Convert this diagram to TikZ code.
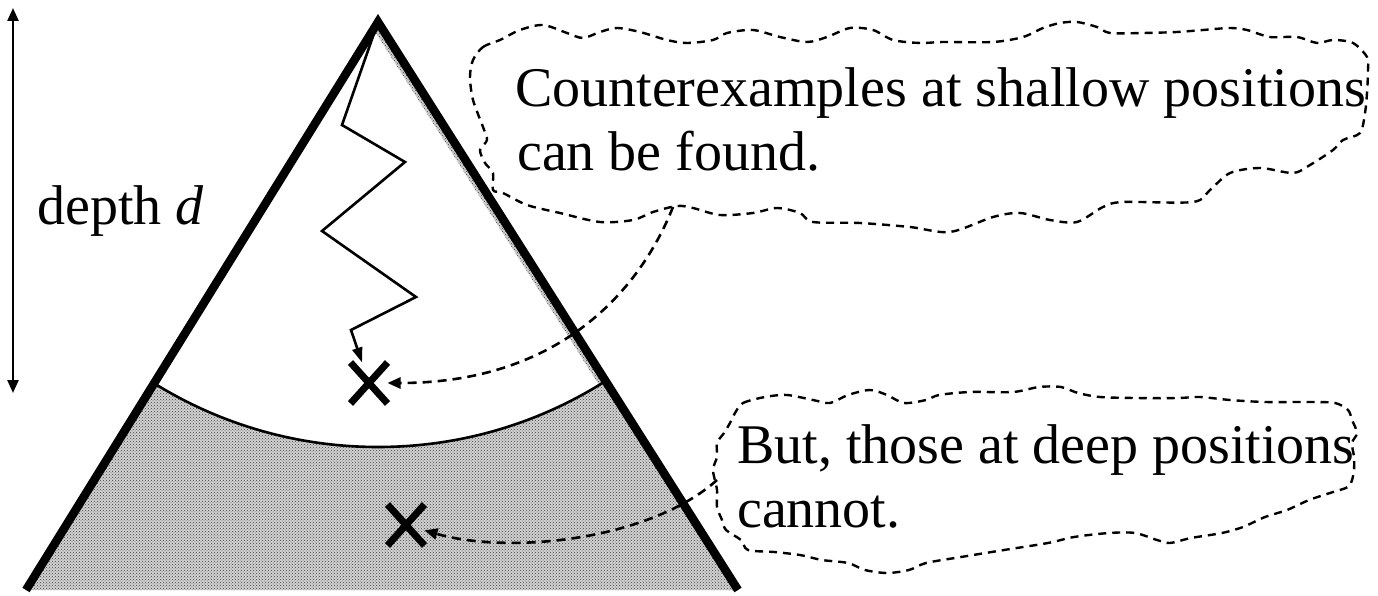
\documentclass[tikz,border=0pt]{standalone}
\usepackage{fontspec}
\setmainfont{Liberation Serif}
\usetikzlibrary{arrows.meta,patterns,shapes.misc}
\begin{document}
\begin{tikzpicture}[x=1pt,y=-1pt,
  edge/.style={line width=8.5pt,line join=miter,line cap=butt},
  walk/.style={line width=2.6pt,-{Triangle[length=15pt,width=10pt]}},
  pointer/.style={line width=2.6pt,dash pattern=on 9pt off 6pt,-{Triangle[length=13pt,width=11pt]}},
  cloud/.style={line width=2.4pt,dash pattern=on 8pt off 6pt},
  xmark/.style={cross out,draw,line width=7pt,minimum width=30pt,minimum height=34pt,inner sep=0pt},
  big/.style={font=\fontsize{56}{64}\selectfont,anchor=base west,inner sep=0pt},
  shade/.style={pattern=crosshatch dots,pattern color=black!75}]
\useasboundingbox (0,0) rectangle (1378,596);
\coordinate (apex) at (378,22);
\coordinate (bl) at (26,590);
\coordinate (br) at (738,590);
% shaded region
\begin{scope}
  \clip (apex) -- (bl) -- (br) -- cycle;
  \fill[black!18] (apex) -- (bl) -- (br) -- cycle;
  \fill[shade] (apex) -- (bl) -- (br) -- cycle;
  \fill[white] (apex) circle[radius=425];
  \fill[black!18] (apex) -- (br) -- ++(-9,0) -- (369,22) -- cycle;
  \fill[shade] (apex) -- (br) -- ++(-9,0) -- (369,22) -- cycle;
  \draw[line width=2.6pt] (apex) circle[radius=425];
\end{scope}
\draw[edge] (bl) -- (apex) -- (br);
% depth arrow
\coordinate (dtop) at (13,8);
\coordinate (dbot) at (13,393);
\draw[line width=2.4pt,{Triangle[length=13pt,width=11pt]}-{Triangle[length=13pt,width=11pt]}] (dtop) -- (dbot);
\node[big] (depth) at (37,225) {depth \textit{d}};
% crosses
\node[xmark] (x1) at (369,383) {};
\node[xmark] (x2) at (406,525) {};
% zigzag walk
\coordinate (z1) at (342,125);
\coordinate (z2) at (405,162);
\coordinate (z3) at (322,231);
\coordinate (z4) at (416,297);
\coordinate (z5) at (351,330);
\draw[walk,line join=miter] (apex) -- (z1) -- (z2) -- (z3) -- (z4) -- (z5) -- (x1);
% clouds
\draw[cloud] plot[smooth cycle,tension=0.5] coordinates {
(473,60) (483,47) (500,40) (520,30) (543,25) (567,33) (583,38) (600,32) (617,28) (640,32) (667,40) (687,43) (713,40) (727,33) (753,30) (780,37) (807,42) (827,37) (850,28) (873,30) (893,40) (920,43) (943,42) (993,42) (1023,37) (1043,28) (1060,23) (1077,22) (1097,27) (1110,33) (1143,33) (1177,32) (1203,30) (1230,28) (1247,30) (1270,37) (1297,37) (1317,43) (1333,40) (1353,43) (1367,57) (1368,70) (1367,93) (1365,113) (1360,133) (1343,140) (1333,150) (1310,165) (1293,173) (1260,168) (1230,173) (1210,190) (1193,202) (1123,202) (1103,207) (1077,222) (1050,220) (1020,213) (993,217) (950,232) (910,227) (860,223) (813,222) (800,213) (777,208) (753,213) (720,215) (693,208) (677,206) (653,212) (633,220) (600,222) (560,213) (527,205) (503,193) (493,190) (493,173) (485,163) (480,150) (487,140) (483,127) (473,100) (470,77)};
\draw[cloud] plot[smooth cycle,tension=0.5] coordinates {
(735,413) (743,403) (765,397) (787,395) (813,400) (830,403) (848,395) (870,390) (887,395) (904,403) (926,400) (939,395) (970,392) (1013,392) (1039,387) (1061,387) (1078,393) (1100,397) (1135,398) (1178,398) (1200,397) (1230,400) (1265,402) (1309,402) (1335,403) (1348,410) (1352,420) (1357,433) (1352,443) (1354,457) (1354,470) (1352,480) (1348,487) (1330,493) (1309,500) (1287,510) (1265,517) (1243,527) (1222,533) (1191,538) (1170,543) (1157,540) (1135,533) (1109,533) (1074,537) (1048,543) (1004,550) (961,557) (926,563) (909,570) (887,573) (865,570) (848,563) (822,560) (800,555) (774,552) (748,550) (741,540) (726,530) (722,520) (717,507) (717,490) (713,470) (717,457) (717,443) (724,433) (730,423)};
% texts
\node[big] (t1a) at (515,107) {Counterexamples at shallow positions};
\node[big] (t1b) at (517,171) {can be found.};
\node[big] (t2a) at (737,463) {But, those at deep positions};
\node[big] (t2b) at (737,527) {cannot.};
% pointers
\coordinate (c1) at (673,207);
\coordinate (c2) at (717,480);
\draw[pointer] (c1) .. controls (640,290) and (560,383) .. (x1);
\draw[pointer] (c2) .. controls (650,540) and (510,555) .. (x2);
\end{tikzpicture}
\end{document}
